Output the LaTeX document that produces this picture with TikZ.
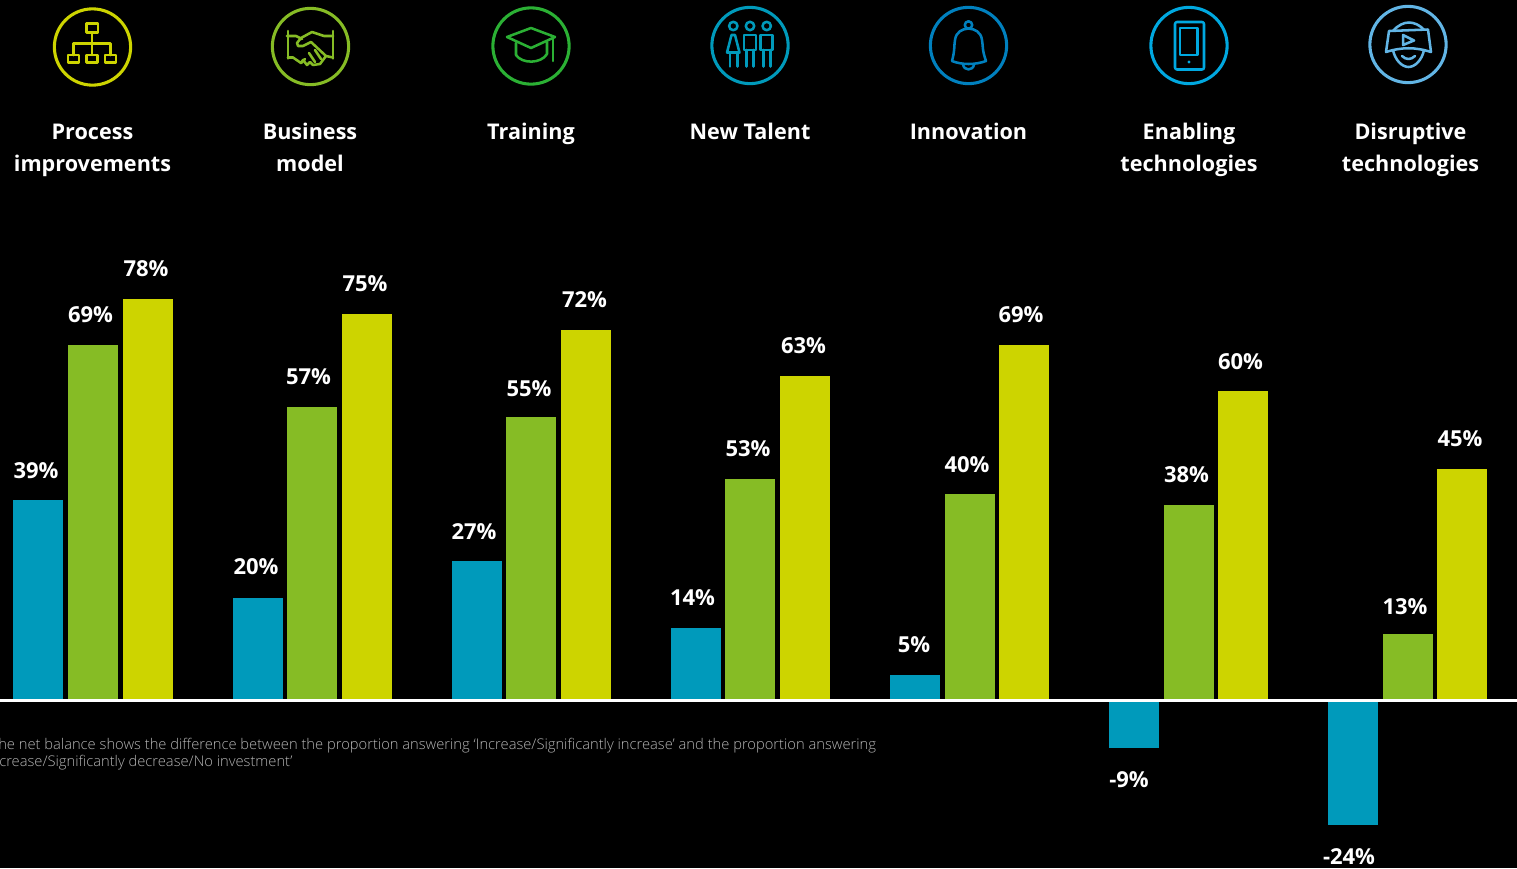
\documentclass[tikz,border=0pt]{standalone}
\usepackage{fontspec}
\setmainfont{Open Sans}
\newfontfamily\lightf{Open Sans Light}
\definecolor{cblue}{HTML}{009ABB}
\definecolor{cgreen}{HTML}{86BC25}
\definecolor{cyellow}{HTML}{CDD400}
\definecolor{cgreenb}{HTML}{2BB034}
\definecolor{cnavy}{HTML}{0080BE}
\definecolor{csky}{HTML}{00A8E0}
\definecolor{clight}{HTML}{62B5E5}
\definecolor{cgrey}{HTML}{B4B4B4}
\tikzset{
  x=0.75pt,y=-0.75pt,
  barb/.style={fill=cblue,draw=none},
  barg/.style={fill=cgreen,draw=none},
  bary/.style={fill=cyellow,draw=none},
  val/.style={text=white,font=\fontsize{16.5}{20}\selectfont\bfseries,inner sep=0pt,anchor=base},
  head/.style={text=white,font=\fontsize{16.2}{24}\selectfont\bfseries,inner sep=0pt,align=center,anchor=base},
  note/.style={text=cgrey,font=\lightf\fontsize{11.04}{13}\selectfont,inner sep=0pt,anchor=base west},
  ring/.style={draw,line width=2.3pt,circle,minimum size=57.2pt,inner sep=0pt},
  ico/.style={line width=1.9pt,line join=round,line cap=round},
}
\begin{document}
\begin{tikzpicture}
\useasboundingbox (0,0) rectangle (1517,868);
\fill[black] (0,0) rectangle (1517,868);
% bars
\fill[barb] (13,700) rectangle (63,500); \fill[barg] (68,700) rectangle (118,345); \fill[bary] (123,700) rectangle (173,299);
\fill[barb] (233,700) rectangle (283,598); \fill[barg] (287,700) rectangle (337,407); \fill[bary] (342,700) rectangle (392,314);
\fill[barb] (452,700) rectangle (502,561); \fill[barg] (506,700) rectangle (556,417); \fill[bary] (561,700) rectangle (611,330);
\fill[barb] (671,700) rectangle (721,628); \fill[barg] (725,700) rectangle (775,479); \fill[bary] (780,700) rectangle (830,376);
\fill[barb] (890,700) rectangle (940,675); \fill[barg] (945,700) rectangle (995,494); \fill[bary] (999,700) rectangle (1049,345);
\fill[barb] (1109,700) rectangle (1159,748); \fill[barg] (1164,700) rectangle (1214,505); \fill[bary] (1218,700) rectangle (1268,391);
\fill[barb] (1328,700) rectangle (1378,825); \fill[barg] (1383,700) rectangle (1433,634); \fill[bary] (1437,700) rectangle (1487,469);
\coordinate (axl) at (0,700.7); \coordinate (axr) at (1517,700.7);
\draw[white,line width=2.1pt] (axl) -- (axr);
% values
\foreach \x/\y/\t in {36/478/39\%,90.5/322/69\%,146/276/78\%,256/574/20\%,308.5/384/57\%,365/291/75\%,474/539/27\%,529/396/55\%,584.5/307/72\%,692.5/605/14\%,748/456/53\%,803.5/353/63\%,914/652/5\%,967/472/40\%,1021/322/69\%,1129/787/-9\%,1186.5/482/38\%,1240.5/369/60\%,1349/864/-24\%,1405/614/13\%,1460/446/45\%}
  \node[val] at (\x,\y) {\t};
% heads
\node[head] (h1) at (92.5,171) {Process\\improvements};
\node[head] (h2) at (310,171) {Business\\model};
\node[head] (h3) at (531,139) {Training};
\node[head] (h4) at (750,139) {New Talent};
\node[head] (h5) at (968.5,139) {Innovation};
\node[head] (h6) at (1189,171) {Enabling\\technologies};
\node[head] (h7) at (1410.5,171) {Disruptive\\technologies};
% notes
\node[note] (n1) at (-2,749) {he net balance shows the difference between the proportion answering ‘Increase/Significantly increase’ and the proportion answering};
\node[note] (n2) at (-1,766) {crease/Significantly decrease/No investment’};
% rings
\node[ring,draw=cyellow] (r1) at (92.5,47) {};
\node[ring,draw=cgreen] (r2) at (310.5,46.5) {};
\node[ring,draw=cgreenb] (r3) at (531,46) {};
\node[ring,draw=cblue] (r4) at (750,45.5) {};
\node[ring,draw=cnavy] (r5) at (968.5,45.5) {};
\node[ring,draw=csky] (r6) at (1189,45.5) {};
\node[ring,draw=clight] (r7) at (1408,44.5) {};
% icon 1
\begin{scope}[ico,draw=cyellow]
\draw (86.5,23.5) rectangle (98,32.5);
\draw (68,55) rectangle (79,62.5);
\draw (86.5,55) rectangle (97.5,62.5);
\draw (105,55) rectangle (116,62.5);
\draw (92,32.5) -- (92,55);
\draw (73.5,55) -- (73.5,43.5) -- (110.5,43.5) -- (110.5,55);
\end{scope}
% icon 2 handshake
\begin{scope}[ico,draw=cgreen]
\draw (288,31) -- (288,58.5); \draw (333,31) -- (333,58.5);
\draw (287,36) -- (296,36) -- (302,39) (288,57.5) -- (293,57.5);
\draw (333,36) -- (324,36) -- (312,32) -- (301,38) -- (297,43) -- (298,46) -- (303,46) -- (311,42) -- (326,56) -- (333,57.5);
\draw (293,57.5) -- (301,63) -- (303,60) -- (307,65) -- (310,62) -- (313,65) -- (320,64) -- (326,56);
\draw (309,53) -- (315,62) (315,50) -- (321,59) (305,59) -- (301,63);
\end{scope}
% icon 3 cap
\begin{scope}[ico,draw=cgreenb]
\draw (507,37) -- (531,28) -- (555,37) -- (531,48) -- cycle;
\draw (516,43) -- (516,55) .. controls (522,64) and (541,64) .. (547,54) -- (547,42);
\draw (553,38) -- (553,61);
\end{scope}
% icon 4 people
\begin{scope}[ico,draw=cblue]
\draw (733.3,26) circle (4.2); \draw (750,26) circle (4.2); \draw (766.7,26) circle (4.2);
\draw (731.5,35) -- (735,35) -- (739.5,52.5) -- (727,52.5) -- cycle;
\draw (744,35) rectangle (756,50); \draw (760.7,35) rectangle (772.7,50);
\draw (730,52.5) -- (730,66.5) (737.3,52.5) -- (737.3,66.5);
\draw (746.7,50) -- (746.7,66.5) (753.3,50) -- (753.3,66.5);
\draw (763.3,50) -- (763.3,66.5) (770.7,50) -- (770.7,66.5);
\end{scope}
% icon 5 bell
\begin{scope}[ico,draw=cnavy]
\draw (968.5,25) circle (3.7);
\draw (952,61) .. controls (955,50) and (954,45) .. (955,40) .. controls (956,32) and (962,29) .. (968.5,28.5) .. controls (975,29) and (981,32) .. (982,40) .. controls (983,45) and (982,50) .. (986,61) .. controls (975,65) and (962,65) .. (952,61) -- cycle;
\draw (963,64.5) .. controls (964,71) and (973,71) .. (974,64.5);
\end{scope}
% icon 6 phone
\begin{scope}[ico,draw=csky]
\draw[rounded corners=1.5pt] (1175,22) rectangle (1204,69.5);
\draw (1180,28) rectangle (1197.5,55);
\fill[csky] (1189,62) circle (1.6);
\end{scope}
% icon 7 VR
\begin{scope}[ico,draw=clight]
\draw (1389,31) -- (1428,29.5) -- (1431,52) .. controls (1415,47) and (1402,47) .. (1386,52) -- cycle;
\draw (1393,31) .. controls (1398,25) and (1404,22.5) .. (1409,22.5) .. controls (1414,22.5) and (1420,25) .. (1424,30);
\draw (1393,50) .. controls (1395,60) and (1402,67) .. (1408.5,67) .. controls (1415,67) and (1422,60) .. (1424,50);
\draw (1403,35) -- (1403,45) -- (1414,40.5) -- cycle;
\draw (1402,56) .. controls (1406,60) and (1411,60) .. (1415,56);
\end{scope}
\end{tikzpicture}
\end{document}
